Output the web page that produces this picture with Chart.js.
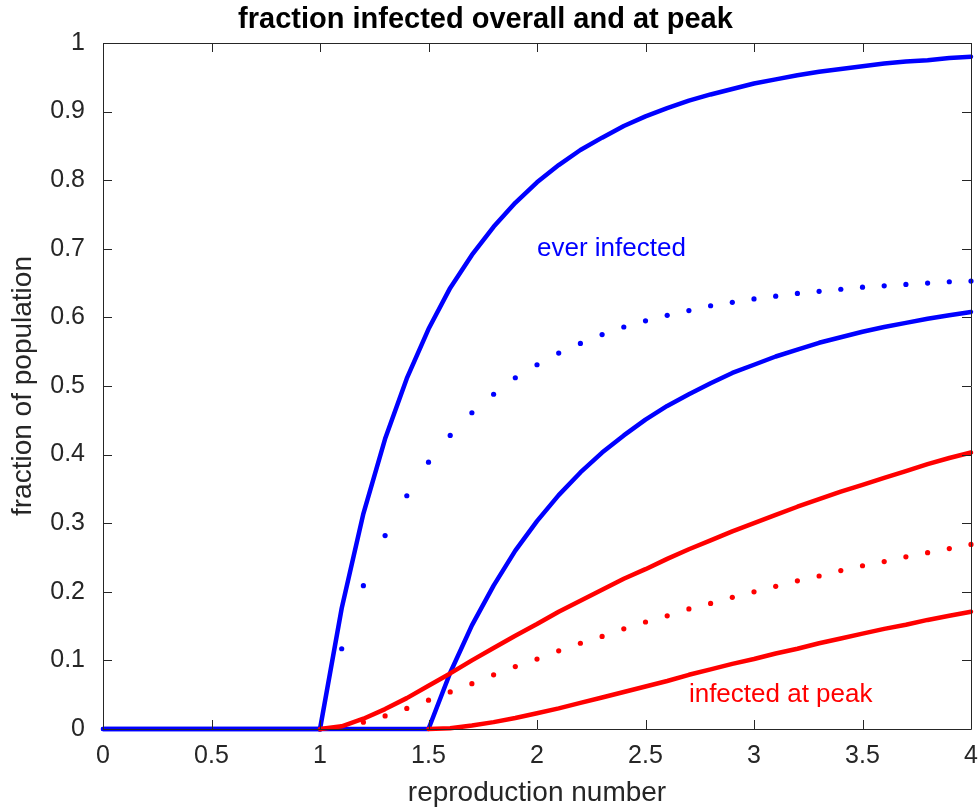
<!DOCTYPE html>
<html>
<head>
<meta charset="utf-8">
<script src="https://cdn.jsdelivr.net/npm/chart.js@4.4.1/dist/chart.umd.min.js"></script>
<style>
  html, body { margin: 0; padding: 0; background: #fff; }
  #wrap { width: 979px; height: 812px; }
</style>
</head>
<body>
<div id="wrap"><canvas id="sirChart"></canvas></div>
<script>
// reproduction number grid (x)
const rGrid = [0, 0.1, 0.2, 0.3, 0.4, 0.5, 0.6, 0.7, 0.8, 0.9, 1.0,
  1.1, 1.2, 1.3, 1.4, 1.5, 1.6, 1.7, 1.8, 1.9, 2.0,
  2.1, 2.2, 2.3, 2.4, 2.5, 2.6, 2.7, 2.8, 2.9, 3.0,
  3.1, 3.2, 3.3, 3.4, 3.5, 3.6, 3.7, 3.8, 3.9, 4.0];

// ever infected, upper solid curve (from R = 0)
const everHigh = [0, 0, 0, 0, 0, 0, 0, 0, 0, 0, 0,
  0.176, 0.314, 0.423, 0.511, 0.583, 0.643, 0.691, 0.732, 0.767, 0.797,
  0.822, 0.844, 0.862, 0.879, 0.893, 0.905, 0.916, 0.925, 0.933, 0.941,
  0.947, 0.953, 0.958, 0.962, 0.966, 0.970, 0.973, 0.975, 0.978, 0.980];

// ever infected, lower solid curve (from R = 0)
const everLow = [0, 0, 0, 0, 0, 0, 0, 0, 0, 0, 0,
  0, 0, 0, 0, 0, 0.082, 0.151, 0.209, 0.260, 0.303,
  0.341, 0.374, 0.403, 0.428, 0.451, 0.471, 0.488, 0.504, 0.519, 0.531,
  0.543, 0.553, 0.563, 0.571, 0.579, 0.586, 0.592, 0.598, 0.603, 0.608];

// ever infected, dotted (from R = 1)
const everDots = [0, 0.117, 0.209, 0.282, 0.340, 0.389, 0.428, 0.461, 0.488, 0.512, 0.531,
  0.548, 0.562, 0.575, 0.586, 0.595, 0.603, 0.610, 0.617, 0.622, 0.627,
  0.631, 0.635, 0.638, 0.641, 0.644, 0.646, 0.648, 0.650, 0.652, 0.653];

// infected at peak, upper solid curve (from R = 1)
const peakHigh = [0, 0.004, 0.015, 0.029, 0.045, 0.063, 0.081, 0.100, 0.118, 0.136, 0.153,
  0.171, 0.187, 0.203, 0.219, 0.233, 0.248, 0.262, 0.275, 0.288, 0.300,
  0.312, 0.324, 0.335, 0.346, 0.356, 0.366, 0.376, 0.386, 0.395, 0.403];

// infected at peak, dotted (from R = 1)
const peakDots = [0, 0.003, 0.010, 0.019, 0.030, 0.042, 0.054, 0.066, 0.079, 0.091, 0.102,
  0.114, 0.125, 0.135, 0.146, 0.156, 0.165, 0.175, 0.183, 0.192, 0.200,
  0.208, 0.216, 0.223, 0.231, 0.238, 0.244, 0.251, 0.257, 0.263, 0.269];

// infected at peak, lower solid curve (from R = 1.5)
const peakLow = [0, 0.001, 0.005, 0.010, 0.016, 0.023,
  0.030, 0.038, 0.046, 0.054, 0.062, 0.070, 0.079, 0.087, 0.095, 0.102,
  0.110, 0.117, 0.125, 0.132, 0.139, 0.146, 0.152, 0.159, 0.165, 0.171];

const xTicks = [0, 0.5, 1, 1.5, 2, 2.5, 3, 3.5, 4];
const yTicks = [0, 0.1, 0.2, 0.3, 0.4, 0.5, 0.6, 0.7, 0.8, 0.9, 1];

// in-plot labels: [text, x, y, colour]
const plotLabels = [
  ['ever infected', 2.0, 0.70, '#0000ff'],
  ['infected at peak', 2.7, 0.05, '#ff0000']
];

const BLUE = '#0000ff';
const RED = '#ff0000';
const AXIS = '#262626';
const FONT = "'Liberation Sans', Arial, Helvetica, sans-serif";

function pts(ys, from) {
  return ys.map((y, i) => ({ x: rGrid[from + i], y: y }));
}

function solid(label, ys, from, color, order) {
  return {
    label: label,
    data: pts(ys, from),
    showLine: true,
    borderColor: color,
    backgroundColor: color,
    borderWidth: 4.5,
    borderCapStyle: 'round',
    borderJoinStyle: 'round',
    pointRadius: 0,
    tension: 0,
    clip: 8,
    order: order
  };
}

function dotted(label, ys, from, color, order) {
  return {
    label: label,
    data: pts(ys, from),
    showLine: false,
    pointRadius: 2.6,
    pointBorderWidth: 0,
    pointBackgroundColor: color,
    pointBorderColor: color,
    clip: 8,
    order: order
  };
}

// box + inward ticks like the original figure
const boxTicks = {
  id: 'boxTicks',
  afterDraw(chart) {
    const { ctx, chartArea: a, scales } = chart;
    const len = 9;
    ctx.save();
    ctx.strokeStyle = AXIS;
    ctx.lineWidth = 1;
    ctx.beginPath();
    ctx.rect(a.left + 0.5, a.top + 0.5, a.right - a.left, a.bottom - a.top);
    xTicks.forEach(v => {
      const px = Math.round(scales.x.getPixelForValue(v)) + 0.5;
      ctx.moveTo(px, a.bottom); ctx.lineTo(px, a.bottom - len);
      ctx.moveTo(px, a.top); ctx.lineTo(px, a.top + len);
    });
    yTicks.forEach(v => {
      const py = Math.round(scales.y.getPixelForValue(v)) + 0.5;
      ctx.moveTo(a.left, py); ctx.lineTo(a.left + len, py);
      ctx.moveTo(a.right, py); ctx.lineTo(a.right - len, py);
    });
    ctx.stroke();
    ctx.restore();
  }
};

const textLabels = {
  id: 'textLabels',
  afterDatasetsDraw(chart) {
    const { ctx, scales } = chart;
    ctx.save();
    ctx.font = '26px ' + FONT;
    ctx.textAlign = 'left';
    ctx.textBaseline = 'middle';
    plotLabels.forEach(([txt, x, y, c]) => {
      ctx.fillStyle = c;
      ctx.fillText(txt, scales.x.getPixelForValue(x), scales.y.getPixelForValue(y));
    });
    ctx.restore();
  }
};

const ctx = document.getElementById('sirChart').getContext('2d');

const sirChart = new Chart(ctx, {
  type: 'scatter',
  data: {
    datasets: [
      dotted('ever infected (dots)', everDots, 10, BLUE, 6),
      dotted('at peak (dots)', peakDots, 10, RED, 5),
      solid('ever infected A', everHigh, 0, BLUE, 4),
      solid('ever infected B', everLow, 0, BLUE, 3),
      solid('at peak A', peakHigh, 10, RED, 2),
      solid('at peak B', peakLow, 15, RED, 1)
    ]
  },
  options: {
    responsive: true,
    maintainAspectRatio: false,
    animation: false,
    layout: { padding: { top: 0, right: 8, bottom: 0, left: 0 } },
    plugins: {
      legend: { display: false },
      tooltip: { enabled: false },
      title: {
        display: true,
        text: 'fraction infected overall and at peak',
        color: '#000',
        font: { family: FONT, size: 29, weight: 'bold' },
        padding: { top: 2.6, bottom: 5.6 }
      }
    },
    scales: {
      x: {
        type: 'linear',
        min: 0,
        max: 4,
        afterBuildTicks: s => { s.ticks = xTicks.map(v => ({ value: v })); },
        afterFit: s => { s.height = 83; s.paddingLeft = 0; s.paddingRight = 0; },
        ticks: {
          color: AXIS,
          padding: 12,
          font: { family: FONT, size: 25 },
          callback: v => String(+v.toFixed(2))
        },
        grid: { display: false, drawTicks: false },
        border: { display: false },
        title: {
          display: true,
          text: 'reproduction number',
          color: AXIS,
          font: { family: FONT, size: 28 },
          padding: { top: 0, bottom: 2 }
        }
      },
      y: {
        type: 'linear',
        min: 0,
        max: 1,
        afterBuildTicks: s => { s.ticks = yTicks.map(v => ({ value: v })); },
        afterFit: s => { s.width = 103; s.paddingTop = 0; s.paddingBottom = 0; },
        ticks: {
          color: AXIS,
          padding: 18,
          font: { family: FONT, size: 25 },
          callback: v => String(+v.toFixed(2))
        },
        grid: { display: false, drawTicks: false },
        border: { display: false },
        title: {
          display: true,
          text: 'fraction of population',
          color: AXIS,
          font: { family: FONT, size: 28 },
          padding: { top: 6.5, bottom: 0 }
        }
      }
    }
  },
  plugins: [boxTicks, textLabels]
});
</script>
</body>
</html>
